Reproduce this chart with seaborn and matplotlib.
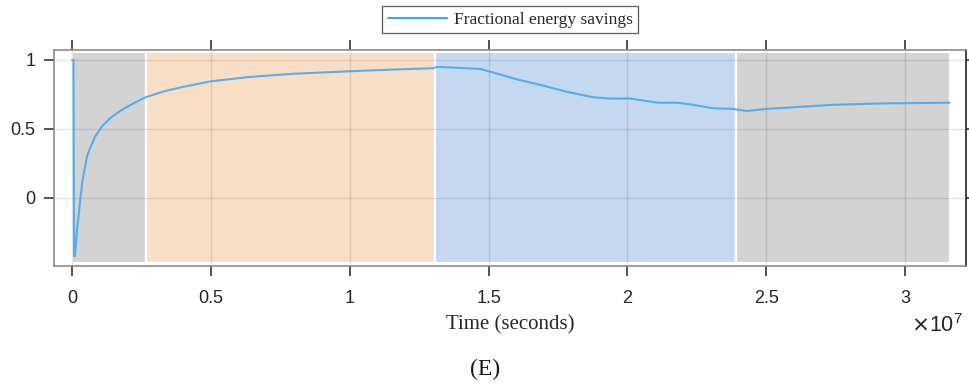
import numpy as np
import pandas as pd
import matplotlib
matplotlib.use("Agg")
import matplotlib.pyplot as plt
import seaborn as sns
from matplotlib.ticker import FuncFormatter

# ---- data (time in units of 1e7 seconds) ----
time_e7 = [0.0, 0.005, 0.0072, 0.0108, 0.019, 0.0288, 0.037, 0.0468, 0.055,
           0.067, 0.083, 0.107, 0.137, 0.173, 0.221, 0.266, 0.33, 0.4, 0.5,
           0.64, 0.8, 1.0, 1.15, 1.3, 1.315, 1.47, 1.515, 1.6, 1.685, 1.78,
           1.876, 1.937, 2.01, 2.11, 2.18, 2.236, 2.308, 2.38, 2.43, 2.5,
           2.62, 2.74, 2.92, 3.16]
savings = [1.0, 1.0, -0.42, -0.42, -0.21, -0.027, 0.118, 0.227, 0.31,
           0.37, 0.444, 0.517, 0.578, 0.63, 0.686, 0.73, 0.772, 0.805, 0.845,
           0.877, 0.9, 0.918, 0.93, 0.94, 0.95, 0.935, 0.91, 0.86, 0.82, 0.77,
           0.73, 0.72, 0.72, 0.69, 0.69, 0.675, 0.65, 0.645, 0.63, 0.645,
           0.66, 0.675, 0.685, 0.69]
region_edges_e7 = [0.0, 0.266, 1.308, 2.39, 3.16]
region_colors = ["#d3d3d3", "#f9dec6", "#c5d8ef", "#d3d3d3"]
legend_label = "Fractional energy savings"
x_ticks_e7 = [0, 0.5, 1, 1.5, 2, 2.5, 3]
y_ticks = [0, 0.5, 1]

df = pd.DataFrame({"Time": np.array(time_e7) * 1e7, "Savings": savings})

sns.set_style("ticks")
plt.rcParams["font.family"] = ["Liberation Sans", "DejaVu Sans"]

fig = plt.figure(figsize=(9.7, 3.87), dpi=100)
ax = fig.add_axes([54 / 970, 1 - 266 / 387, (966 - 54) / 970, (266 - 50) / 387])

ylo, yhi = -0.493, 1.072
for i, c in enumerate(region_colors):
    ax.axvspan(region_edges_e7[i] * 1e7, region_edges_e7[i + 1] * 1e7,
               ymin=0.014, ymax=0.991, facecolor=c, edgecolor="white",
               linewidth=1.6, zorder=1)

sns.lineplot(data=df, x="Time", y="Savings", ax=ax, color="#3ea6f0",
             alpha=0.85, linewidth=1.5, label=legend_label, zorder=3)

ax.set_xlim(-0.065e7, 3.219e7)
ax.set_ylim(ylo, yhi)
ax.set_xticks([v * 1e7 for v in x_ticks_e7])
ax.set_yticks(y_ticks)
ax.xaxis.set_major_formatter(FuncFormatter(lambda v, p: f"{v / 1e7:g}"))
ax.yaxis.set_major_formatter(FuncFormatter(lambda v, p: f"{v:g}"))

ax.set_axisbelow("line")
ax.grid(True, color="black", alpha=0.1, linewidth=1, zorder=1.5)

ax.tick_params(axis="both", which="major", direction="out", length=7.5,
               width=1.1, color="#222222", labelsize=13, labelcolor="#262626",
               top=True, right=True, labeltop=False, labelright=False)
ax.tick_params(axis="x", pad=9.5)
ax.tick_params(axis="y", pad=6)
for side in ["left", "bottom", "top"]:
    ax.spines[side].set_color("#8a8a8a")
    ax.spines[side].set_linewidth(1.2)
ax.spines["right"].set_color("#222222")
ax.spines["right"].set_linewidth(1.2)

serif = ["Liberation Serif", "DejaVu Serif"]
ax.set_xlabel("Time (seconds)", fontsize=15, family=serif, color="#262626", labelpad=6)
ax.set_ylabel("")

ax.text(0.997, -0.225, r"$\times\mathregular{10^{7}}$", transform=ax.transAxes,
        ha="right", va="top", fontsize=15.5, color="#262626")

leg = ax.legend(loc="lower center", bbox_to_anchor=(0.5, 1.079), frameon=True,
                fancybox=False, edgecolor="#333333", prop={"family": serif, "size": 12.5},
                handlelength=3.4, handletextpad=0.4, borderpad=0.3, borderaxespad=0)
leg.get_frame().set_linewidth(0.9)
for line in leg.get_lines():
    line.set_alpha(1.0)

fig.text(485 / 970, 1 - 369 / 387, "(E)", ha="center", va="center",
         fontsize=17, family=serif, color="#1a1a1a")

fig.savefig("out.png", dpi=100)
